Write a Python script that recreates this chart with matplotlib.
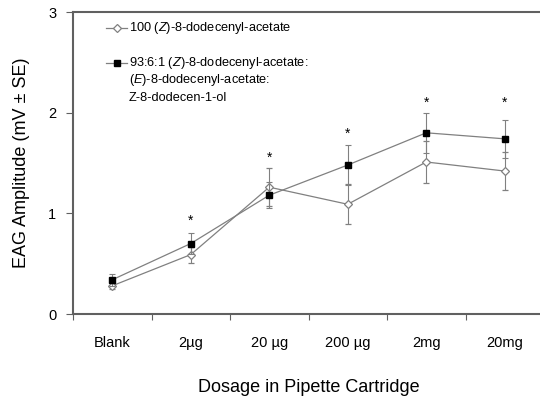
import matplotlib
matplotlib.use("Agg")
import matplotlib.pyplot as plt
import numpy as np

plt.rcParams['font.family'] = ['Liberation Sans', 'DejaVu Sans']
plt.rcParams['mathtext.fontset'] = 'custom'
plt.rcParams['mathtext.rm'] = 'Liberation Sans'
plt.rcParams['mathtext.it'] = 'Liberation Sans:italic'

categories = ["Blank", "2µg", "20 µg", "200 µg", "2mg", "20mg"]
single_mean = [0.28, 0.59, 1.26, 1.09, 1.51, 1.42]
single_se = [0.03, 0.08, 0.19, 0.20, 0.21, 0.19]
blend_mean = [0.34, 0.70, 1.18, 1.48, 1.80, 1.74]
blend_se = [0.06, 0.10, 0.13, 0.20, 0.20, 0.19]
star_y = [None, 0.93, 1.55, 1.79, 2.10, 2.10]

label_single = "100 ($\\it{Z}$)-8-dodecenyl-acetate"
label_blend = ["93:6:1 ($\\it{Z}$)-8-dodecenyl-acetate:",
               "($\\it{E}$)-8-dodecenyl-acetate:",
               "Z-8-dodecen-1-ol"]

fig = plt.figure(figsize=(5.4, 4.0), dpi=100)
ax = fig.add_axes([73/540, 1-314/400, 471/540, 302/400])

x = np.arange(len(categories))
gray = "#808080"
ax.errorbar(x, single_mean, yerr=single_se, color=gray, lw=0.9, marker='D', ms=4.0,
            mfc='white', mec=gray, mew=0.9, ecolor=gray, elinewidth=0.8, capsize=2.5, capthick=0.8, zorder=3)
ax.errorbar(x, blend_mean, yerr=blend_se, color=gray, lw=0.9, marker='s', ms=5,
            mfc='black', mec='black', ecolor=gray, elinewidth=0.8, capsize=2.5, capthick=0.8, zorder=4)

for xi, sy in zip(x, star_y):
    if sy is not None:
        ax.text(xi, sy, "*", ha='center', va='center', fontsize=10, color='black')

ax.set_xlim(-0.5, 5.5)
ax.set_ylim(0, 3)
ax.set_yticks([0, 1, 2, 3])
ax.set_xticks(np.arange(-0.5, 6.0, 1.0))
ax.set_xticklabels([])
ax.set_xticks(x, minor=True)
ax.set_xticklabels(categories, minor=True, fontsize=10.5)
ax.tick_params(axis='x', which='minor', length=0, pad=16)
ax.tick_params(axis='x', which='major', length=4, direction='out', color='#606060')
ax.tick_params(axis='y', length=5, direction='out', color='#606060', labelsize=10.5, pad=7)
for s in ax.spines.values():
    s.set_color('#606060')
    s.set_linewidth(1.5)

ax.set_xlabel("Dosage in Pipette Cartridge", fontsize=13, labelpad=21)
ax.set_ylabel("EAG Amplitude (mV ± SE)", fontsize=13, labelpad=13)

def ax_x(px):
    return (px - 73) / 471
def ax_y(py):
    return (314 - py) / 302

# legend drawn manually
ax.plot([ax_x(106), ax_x(127)], [ax_y(28), ax_y(28)], transform=ax.transAxes, color=gray, lw=0.9, clip_on=False)
ax.plot([ax_x(117)], [ax_y(28)], transform=ax.transAxes, marker='D', ms=4.0, mfc='white', mec=gray, mew=0.9, clip_on=False)
ax.text(ax_x(129), ax_y(28), label_single, transform=ax.transAxes, fontsize=9.2, va='center', ha='left')

ax.plot([ax_x(106), ax_x(127)], [ax_y(63), ax_y(63)], transform=ax.transAxes, color=gray, lw=0.9, clip_on=False)
ax.plot([ax_x(117)], [ax_y(63)], transform=ax.transAxes, marker='s', ms=5, mfc='black', mec='black', clip_on=False)
for line, py in zip(label_blend, [63, 80.5, 98]):
    ax.text(ax_x(129), ax_y(py), line, transform=ax.transAxes, fontsize=9.2, va='center', ha='left')

fig.savefig("out.png", dpi=100)
